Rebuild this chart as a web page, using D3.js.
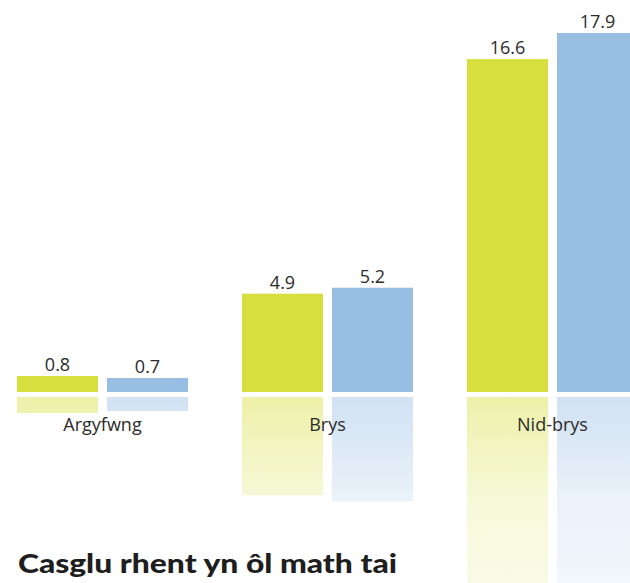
<!DOCTYPE html>
<html>
<head>
<meta charset="utf-8">
<script src="https://cdn.jsdelivr.net/npm/d3@7"></script>
<style>
  html, body { margin: 0; padding: 0; background: #ffffff; }
  svg { display: block; }
</style>
</head>
<body>
<script>
// ---- data ----
const categories = ["Argyfwng", "Brys", "Nid-brys"];
const seriesNames = ["Cyfres 1", "Cyfres 2"];
const series1Values = [0.8, 4.9, 16.6];
const series2Values = [0.7, 5.2, 17.9];
const seriesColors = ["#d7df3e", "#98bee4"];
const titleText = "Casglu rhent yn ôl math tai";

const W = 630, H = 583;
const baseY = 392;      // bar baseline
const reflTop = 397;    // reflection start

const svg = d3.select("body").append("svg")
  .attr("width", W).attr("height", H);

const rows = categories.map((c, i) => ({
  cat: c,
  vals: [series1Values[i], series2Values[i]]
}));

const x0 = d3.scaleBand().domain(categories).range([17, 638])
  .paddingInner(0.24).paddingOuter(0);
const x1 = d3.scaleBand().domain(seriesNames).range([0, x0.bandwidth()])
  .paddingInner(0.1).paddingOuter(0);
const y = d3.scaleLinear().domain([0, 17.9]).range([baseY, baseY - 359]);

// gradients for reflections
const defs = svg.append("defs");
seriesColors.forEach((col, i) => {
  const g = defs.append("linearGradient")
    .attr("id", "refl" + i)
    .attr("gradientUnits", "userSpaceOnUse")
    .attr("x1", 0).attr("y1", reflTop).attr("x2", 0).attr("y2", H);
  g.append("stop").attr("offset", 0).attr("stop-color", col).attr("stop-opacity", 0.45);
  g.append("stop").attr("offset", 0.55).attr("stop-color", col).attr("stop-opacity", 0.2);
  g.append("stop").attr("offset", 1).attr("stop-color", col).attr("stop-opacity", 0.13);
});

const groups = svg.selectAll("g.grp").data(rows).join("g")
  .attr("class", "grp")
  .attr("transform", d => `translate(${x0(d.cat)},0)`);

const items = d => d.vals.map((v, i) => ({ v, i, s: seriesNames[i] }));

// reflections
groups.selectAll("rect.refl").data(items).join("rect")
  .attr("class", "refl")
  .attr("x", d => x1(d.s))
  .attr("width", x1.bandwidth())
  .attr("y", reflTop)
  .attr("height", d => baseY - y(d.v))
  .attr("fill", d => `url(#refl${d.i})`);

// bars
groups.selectAll("rect.bar").data(items).join("rect")
  .attr("class", "bar")
  .attr("x", d => x1(d.s))
  .attr("width", x1.bandwidth())
  .attr("y", d => y(d.v))
  .attr("height", d => baseY - y(d.v))
  .attr("fill", d => seriesColors[d.i]);

// value labels
groups.selectAll("text.val").data(items).join("text")
  .attr("class", "val")
  .attr("x", d => x1(d.s) + x1.bandwidth() / 2)
  .attr("y", d => y(d.v) - 5)
  .attr("text-anchor", "middle")
  .attr("font-family", "'Open Sans', sans-serif")
  .attr("font-size", 18)
  .attr("fill", "#2b2b2b")
  .text(d => d.v.toFixed(1));

// category labels
svg.selectAll("text.cat").data(categories).join("text")
  .attr("class", "cat")
  .attr("x", d => x0(d) + x0.bandwidth() / 2)
  .attr("y", 431)
  .attr("text-anchor", "middle")
  .attr("font-family", "'Open Sans', sans-serif")
  .attr("font-size", 18)
  .attr("fill", "#2b2b2b")
  .text(d => d);

// title
svg.append("text")
  .attr("x", 18)
  .attr("y", 573)
  .attr("font-family", "Lato, sans-serif")
  .attr("font-weight", 900)
  .attr("font-size", 27)
  .attr("fill", "#1e1e1e")
  .attr("textLength", 379)
  .attr("lengthAdjust", "spacingAndGlyphs")
  .text(titleText);
</script>
</body>
</html>
